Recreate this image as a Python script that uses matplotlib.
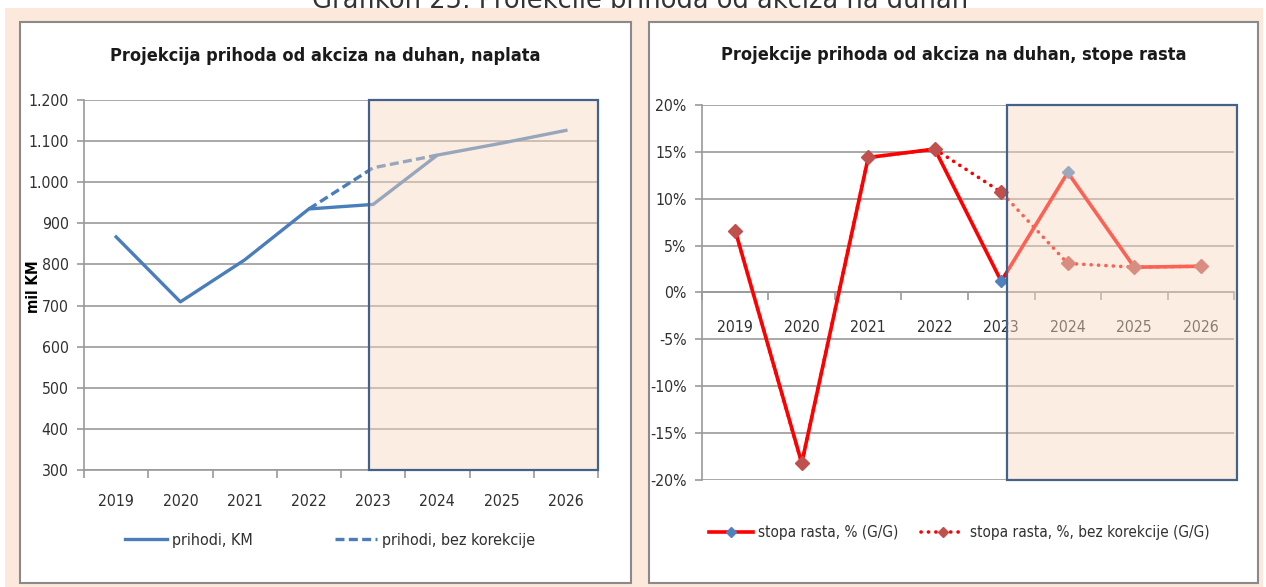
import numpy as np
import matplotlib
matplotlib.use("Agg")
import matplotlib.pyplot as plt
from matplotlib.patches import Rectangle
from matplotlib.ticker import FixedLocator, FuncFormatter

plt.rcParams['font.family'] = ['DejaVu Sans']
plt.rcParams['font.stretch'] = 'condensed'

# podaci
years = ['2019', '2020', '2021', '2022', '2023', '2024', '2025', '2026']
prihodi = [867, 709, 811, 935, 946, 1066, 1095, 1126]
prihodi_bez = [np.nan, np.nan, np.nan, 935, 1035, 1066, np.nan, np.nan]
stopa = [6.6, -18.2, 14.4, 15.3, 1.2, 12.8, 2.7, 2.8]
stopa_bez = [6.6, -18.2, 14.4, 15.3, 10.7, 3.1, 2.7, 2.8]

W, H = 1266, 587
fig = plt.figure(figsize=(W / 100, H / 100), dpi=100, facecolor='white')


def box(x0, y0, x1, y1):
    # pixel box -> figure fraction [left, bottom, width, height]
    return [x0 / W, 1 - y1 / H, (x1 - x0) / W, (y1 - y0) / H]


peach = '#FCE9DB'
grid_c = '#9A9A9A'
txt_c = '#303030'
fs = 11.3

fig.text(640 / W, 1 - 8 / H, 'Grafikon 25: Projekcije prihoda od akciza na duhan',
         ha='center', va='baseline', fontsize=18.5, family='DejaVu Sans', stretch='normal',
         color='#333333', zorder=0)
fig.patches.append(Rectangle((5 / W, 0), 1258 / W, 1 - 8 / H, transform=fig.transFigure,
                             facecolor=peach, edgecolor='none', zorder=1))
for bx in [(20, 22, 631, 583), (649, 22, 1258, 583)]:
    b = box(*bx)
    fig.patches.append(Rectangle((b[0], b[1]), b[2], b[3], transform=fig.transFigure,
                                 facecolor='white', edgecolor='#8A8A8A', lw=1.5, zorder=2))

x = np.arange(len(years))
overlay_face = (249 / 255, 217 / 255, 191 / 255, 0.45)
rect_edge = '#42628C'


def style_axis(ax):
    ax.set_zorder(3)
    ax.set_facecolor('none')
    ax.set_xlim(-0.5, 7.5)
    ax.spines['top'].set_visible(False)
    ax.spines['right'].set_visible(False)
    ax.spines['left'].set_color(grid_c)
    ax.spines['bottom'].set_color(grid_c)
    ax.spines['left'].set_linewidth(1.2)
    ax.spines['bottom'].set_linewidth(1.2)
    ax.grid(axis='y', color=grid_c, lw=1.2)
    ax.xaxis.set_major_locator(FixedLocator(np.arange(-0.5, 8, 1)))
    ax.xaxis.set_minor_locator(FixedLocator(x))
    ax.xaxis.set_major_formatter(FuncFormatter(lambda v, p: ''))
    ax.xaxis.set_minor_formatter(FuncFormatter(lambda v, p: years[int(round(v))]))
    ax.tick_params(axis='x', which='major', length=6, color=grid_c, width=1.2)
    ax.tick_params(axis='y', length=5, color=grid_c, width=1.2, labelsize=fs,
                   labelcolor=txt_c, pad=6)


# lijevi grafikon
ax1 = fig.add_axes(box(84, 100, 598, 470))
style_axis(ax1)
ax1.set_ylim(300, 1200)
ax1.set_yticks(np.arange(300, 1201, 100))
ax1.yaxis.set_major_formatter(FuncFormatter(lambda v, p: f'{v:,.0f}'.replace(',', '.')))
ax1.tick_params(axis='x', which='minor', length=0, labelsize=fs, labelcolor=txt_c, pad=17)
ax1.plot(x, prihodi, color='#4A7EBB', lw=2.4, label='prihodi, KM', zorder=3)
ax1.plot(x, prihodi_bez, color='#4A7EBB', lw=2.4, ls=(0, (2.7, 1.3)),
         label='prihodi, bez korekcije', zorder=3)
ax1.add_patch(Rectangle((3.93, 300), 7.5 - 3.93, 900, facecolor=overlay_face,
                        edgecolor=rect_edge, lw=1.6, zorder=4, clip_on=False))
fig.text(33 / W, 1 - 287 / H, 'mil KM', rotation=90, ha='center', va='center',
         fontsize=11, fontweight='bold', color='black')
fig.text(325 / W, 1 - 56 / H, 'Projekcija prihoda od akciza na duhan, naplata',
         ha='center', va='center', fontsize=13, fontweight='bold', color='#1a1a1a')
ax1.legend(loc='center', bbox_to_anchor=(330 / W, 1 - 540 / H),
           bbox_transform=fig.transFigure, ncol=2, frameon=False, fontsize=11.5,
           handlelength=2.6, handletextpad=0.3, columnspacing=5.2,
           labelcolor=txt_c)

# desni grafikon
ax2 = fig.add_axes(box(702, 105, 1234, 480))
style_axis(ax2)
ax2.set_ylim(-20, 20)
ax2.set_yticks(np.arange(-20, 21, 5))
ax2.yaxis.set_major_formatter(FuncFormatter(lambda v, p: f'{v:.0f}%'))
ax2.spines['bottom'].set_position(('data', 0))
ax2.tick_params(axis='x', which='minor', length=0, labelsize=fs, labelcolor=txt_c, pad=20)
ax2.plot(x, stopa, color='#FF0000', lw=2.6, marker='D', ms=6.5,
         mfc='#4F81BD', mec='#4F81BD', label='stopa rasta, % (G/G)', zorder=3)
ax2.plot(x, stopa_bez, color='#FF0000', lw=2.6, ls=(0, (0.05, 2.0)),
         dash_capstyle='round', marker='D', ms=7,
         mfc='#C0504D', mec='#C0504D', label='stopa rasta, %, bez korekcije (G/G)',
         zorder=3.1)
ax2.add_patch(Rectangle((4.08, -20), 7.55 - 4.08, 40, facecolor=overlay_face,
                        edgecolor=rect_edge, lw=1.6, zorder=4, clip_on=False))
fig.text(954 / W, 1 - 55 / H, 'Projekcije prihoda od akciza na duhan, stope rasta',
         ha='center', va='center', fontsize=13, fontweight='bold', color='#1a1a1a')
ax2.legend(loc='center', bbox_to_anchor=(959 / W, 1 - 533 / H),
           bbox_transform=fig.transFigure, ncol=2, frameon=False, fontsize=11,
           handlelength=2.9, handletextpad=0.3, columnspacing=1.5,
           labelcolor=txt_c, markerscale=0.8)

fig.savefig('out.png', dpi=100, facecolor='white')
